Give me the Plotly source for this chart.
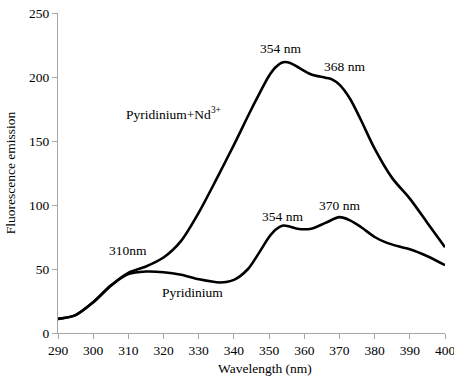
import plotly.graph_objects as go

# Pyridinium + Nd3+ curve
wl_nd = [290, 295, 300, 305, 310, 315, 320, 325, 330, 335, 340, 345, 350, 352, 354, 356, 358, 362, 366, 368, 370, 373, 376, 380, 385, 390, 395, 400]
em_nd = [11, 14, 24, 37, 47, 52, 59, 72, 94, 120, 147, 175, 201, 208, 211.5, 211, 208, 202, 199.5, 198, 194, 183, 167, 144, 121, 105, 86, 67]

# Pyridinium curve
wl_py = [290, 295, 300, 305, 310, 315, 320, 325, 330, 336, 340, 344, 347, 350, 352, 354, 356, 358, 362, 366, 370, 373, 376, 380, 383, 387, 390, 395, 400]
em_py = [11, 14, 24, 37, 46, 48, 47.5, 45.5, 42, 39.5, 41.5, 50, 62, 75, 81, 84, 83, 81.5, 81.5, 86, 90.5, 88, 83, 75, 71, 67.5, 65.5, 60, 53]

x_ticks = [290, 300, 310, 320, 330, 340, 350, 360, 370, 380, 390, 400]
y_ticks = [0, 50, 100, 150, 200, 250]

labels = [
    (353.2, 222.4, "354 nm"),
    (371.3, 208.4, "368 nm"),
    (322.8, 171.6, "Pyridinium+Nd<sup>3+</sup>"),
    (309.9, 64.6, "310nm"),
    (328.2, 31.3, "Pyridinium"),
    (353.9, 91.4, "354 nm"),
    (369.9, 99.8, "370 nm"),
]

x_title = "Wavelength (nm)"
y_title = "Fluorescence emission"

font_family = "Liberation Serif, Times New Roman, serif"

fig = go.Figure()
fig.add_trace(go.Scatter(x=wl_nd, y=em_nd, mode="lines",
                         line=dict(color="black", width=2.6, shape="spline", smoothing=0.8),
                         showlegend=False))
fig.add_trace(go.Scatter(x=wl_py, y=em_py, mode="lines",
                         line=dict(color="black", width=2.6, shape="spline", smoothing=0.8),
                         showlegend=False))

for x, y, t in labels:
    fig.add_annotation(x=x, y=y, text=t, showarrow=False,
                       font=dict(family=font_family, size=13.5, color="black"))

# x-axis title (slightly right of plot centre, as in the reference)
fig.add_annotation(xref="paper", yref="paper", x=0.534, y=-0.11, xanchor="center", yanchor="middle",
                   text=x_title, showarrow=False,
                   font=dict(family=font_family, size=13.5, color="black"))

axis_common = dict(showgrid=False, zeroline=False, showline=True, linecolor="#a6a6a6",
                   linewidth=1, ticks="outside", tickcolor="#a6a6a6", ticklen=5,
                   automargin=False, ticklabeloverflow="allow",
                   tickfont=dict(family=font_family, size=13.5, color="black"))

fig.update_xaxes(range=[290, 400], tickvals=x_ticks, ticktext=[str(v) for v in x_ticks],
                 **axis_common)
fig.update_yaxes(range=[0, 250], tickvals=y_ticks, ticktext=[str(v) for v in y_ticks],
                 title=dict(text=y_title, font=dict(family=font_family, size=13.5, color="black"), standoff=10),
                 **axis_common)

fig.update_layout(width=454, height=383, margin=dict(l=58, r=9, t=13, b=50),
                  plot_bgcolor="white", paper_bgcolor="white", font=dict(family=font_family))

fig.write_html("out.html", config={"displayModeBar": False},
               post_script="document.body.style.margin='0';")
